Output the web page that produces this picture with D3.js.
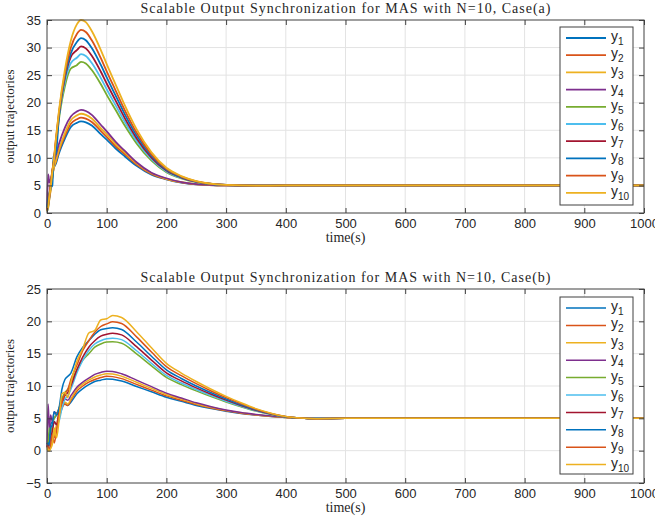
<!DOCTYPE html>
<html>
<head>
<meta charset="utf-8">
<script src="https://cdnjs.cloudflare.com/ajax/libs/d3/7.8.5/d3.min.js"></script>
<style>
  body { margin: 0; background: #fff; }
  .tick text { font-family: "Liberation Sans", Arial, sans-serif; font-size: 13px; fill: #262626; }
</style>
</head>
<body>
<div id="chart"></div>
<script>
// legend names + matlab default colours
const seriesNames = ["1", "2", "3", "4", "5", "6", "7", "8", "9", "10"]
const seriesColors = ["#0072BD", "#D95319", "#EDB120", "#7E2F8E", "#77AC30",
                      "#4DBEEE", "#A2142F", "#0072BD", "#D95319", "#EDB120"]

const xTicks = [0, 100, 200, 300, 400, 500, 600, 700, 800, 900, 1000]
const yTicksA = [0, 5, 10, 15, 20, 25, 30, 35]
const yTicksB = [-5, 0, 5, 10, 15, 20, 25]

// case (a) - sample times and values
const timeA = [0, 2, 4, 6, 9, 11, 15, 20, 30, 40, 50, 57, 65, 75, 90, 100, 115, 130, 150, 175, 200, 225, 250, 300, 350, 400, 1000]
const a1  = [1.0, 2.0, 3.0, 4.5, 6.5, 8.0, 9.0, 10.8, 13.5, 15.6, 16.35, 16.6, 16.45, 15.85, 14.3, 13.3, 11.7, 10.3, 8.55, 6.95, 6.1, 5.5, 5.2, 5.0, 4.95, 5.0, 5.0]
const a2  = [0.5, 1.2, 2.7, 4.2, 6.5, 8.0, 9.3, 11.2, 14.0, 16.2, 17.0, 17.3, 17.1, 16.5, 14.9, 13.8, 12.1, 10.7, 8.8, 7.1, 6.15, 5.55, 5.2, 5.0, 4.95, 5.0, 5.0]
const a3  = [0.3, 1.0, 2.5, 4.0, 6.5, 8.0, 9.5, 11.5, 14.5, 16.8, 17.7, 18.0, 17.8, 17.15, 15.4, 14.3, 12.5, 11.0, 9.0, 7.2, 6.2, 5.6, 5.25, 5.0, 4.95, 5.0, 5.0]
const a4  = [0.5, 7.0, 5.5, 6.0, 7.5, 9.0, 10.5, 12.5, 15.5, 17.5, 18.4, 18.7, 18.5, 17.8, 16.0, 14.8, 12.9, 11.3, 9.2, 7.3, 6.3, 5.6, 5.25, 5.0, 4.95, 5.0, 5.0]
const a5  = [0.8, 2.0, 3.5, 5.0, 7.5, 9.0, 12.5, 17.0, 23.0, 26.2, 26.81, 27.4, 27.11, 25.92, 23.38, 21.43, 18.67, 15.91, 12.62, 9.48, 7.39, 6.27, 5.6, 5.07, 4.96, 5.0, 5.0]
const a6  = [0.3, 1.0, 2.8, 4.5, 7.2, 8.8, 12.8, 17.5, 23.8, 27.2, 28.16, 28.8, 28.47, 27.2, 24.51, 22.45, 19.51, 16.58, 13.09, 9.76, 7.54, 6.35, 5.63, 5.08, 4.96, 5.0, 5.0]
const a7  = [0.5, 1.5, 3.0, 4.8, 7.5, 9.0, 13.0, 17.8, 24.5, 28.3, 29.53, 30.2, 29.86, 28.52, 25.66, 23.48, 20.37, 17.26, 13.57, 10.04, 7.69, 6.43, 5.67, 5.08, 4.96, 5.0, 5.0]
const a8  = [1.0, 2.5, 3.5, 4.5, 5.0, 10.2, 10.8, 17.5, 24.8, 29.0, 31.0, 31.7, 31.34, 29.92, 26.89, 24.58, 21.29, 17.99, 14.08, 10.34, 7.85, 6.51, 5.71, 5.09, 4.96, 5.0, 5.0]
const a9  = [0.5, 1.5, 3.2, 5.0, 7.8, 9.2, 13.5, 18.2, 25.3, 30.0, 32.45, 33.2, 32.82, 31.32, 28.12, 25.68, 22.2, 18.72, 14.59, 10.64, 8.01, 6.6, 5.75, 5.09, 4.95, 5.0, 5.0]
const a10 = [0.3, 1.2, 3.0, 4.5, 7.5, 9.0, 13.5, 18.5, 26.0, 31.3, 34.2, 35.0, 34.6, 33.0, 29.6, 27.0, 23.3, 19.6, 15.2, 11.0, 8.2, 6.7, 5.8, 5.1, 4.95, 5.0, 5.0]

// case (b)
const timeB = [0, 2, 4, 6, 9, 12, 16, 20, 25, 30, 35, 40, 50, 60, 70, 80, 90, 100, 110, 125, 150, 175, 200, 225, 250, 275, 300, 325, 350, 375, 400, 425, 450, 500, 1000]
const b1  = [1.2, 1.0, 2.5, 4.0, 4.5, 5.0, 5.5, 6.0, 7.0, 7.2, 7.0, 7.5, 8.8, 9.6, 10.2, 10.7, 10.9, 11.1, 11.05, 10.77, 9.93, 9.1, 8.26, 7.63, 7.0, 6.5, 6.09, 5.75, 5.5, 5.29, 5.13, 5.03, 4.96, 5.0, 5.0]
const b2  = [0.8, 0.5, 1.0, 2.0, 3.0, 2.0, 3.5, 5.0, 6.5, 7.2, 7.0, 7.8, 9.2, 10.0, 10.6, 11.0, 11.3, 11.5, 11.45, 11.14, 10.25, 9.36, 8.47, 7.8, 7.14, 6.6, 6.16, 5.8, 5.53, 5.31, 5.13, 5.03, 4.96, 5.0, 5.0]
const b3  = [0.3, 0.0, 0.0, 0.5, 1.5, 2.5, 4.0, 5.5, 7.0, 7.5, 7.2, 8.0, 9.5, 10.3, 10.9, 11.4, 11.7, 11.9, 11.85, 11.52, 10.58, 9.63, 8.69, 7.98, 7.27, 6.7, 6.23, 5.85, 5.57, 5.33, 5.14, 5.03, 4.95, 5.0, 5.0]
const b4  = [0.5, 7.2, 3.0, 5.5, 4.5, 6.0, 5.8, 6.5, 7.5, 8.0, 7.8, 8.5, 9.8, 10.6, 11.2, 11.8, 12.1, 12.3, 12.25, 11.9, 10.9, 9.9, 8.9, 8.15, 7.4, 6.8, 6.3, 5.9, 5.6, 5.35, 5.15, 5.03, 4.95, 5.0, 5.0]
const b5  = [1.0, 1.5, 3.5, 2.5, 4.0, 5.0, 5.5, 6.5, 8.0, 9.0, 9.5, 10.5, 12.5, 14.0, 15.0, 16.0, 16.5, 16.8, 16.85, 16.62, 14.98, 13.12, 11.33, 10.22, 9.25, 8.35, 7.53, 6.79, 6.12, 5.6, 5.22, 5.04, 4.96, 5.0, 5.0]
const b6  = [0.3, 0.5, 0.5, 1.5, 3.0, 4.5, 4.0, 4.5, 6.5, 8.0, 8.5, 9.5, 12.0, 14.0, 15.5, 16.5, 17.0, 17.3, 17.4, 17.17, 15.45, 13.5, 11.63, 10.46, 9.45, 8.51, 7.65, 6.87, 6.17, 5.62, 5.23, 5.04, 4.96, 5.0, 5.0]
const b7  = [0.5, 0.8, 1.0, 2.0, 3.0, 4.5, 4.0, 6.0, 7.5, 8.5, 9.0, 10.0, 12.5, 14.5, 16.0, 17.0, 17.7, 18.0, 18.15, 17.9, 16.08, 14.01, 12.03, 10.79, 9.71, 8.72, 7.81, 6.98, 6.24, 5.66, 5.25, 5.04, 4.96, 5.0, 5.0]
const b8  = [1.0, 1.2, 0.8, 3.5, 4.0, 6.0, 5.5, 6.5, 9.5, 11.0, 11.5, 12.0, 14.5, 16.0, 17.0, 18.0, 18.7, 18.9, 19.0, 18.73, 16.8, 14.6, 12.5, 11.16, 10.0, 8.96, 8.0, 7.11, 6.32, 5.7, 5.26, 5.04, 4.96, 5.0, 5.0]
const b9  = [0.8, 0.5, 0.2, 1.0, 2.5, 1.2, 3.0, 5.5, 7.5, 8.8, 9.5, 11.0, 13.2, 15.5, 17.0, 18.3, 19.2, 19.6, 19.95, 19.66, 17.6, 15.25, 13.0, 11.6, 10.36, 9.23, 8.2, 7.26, 6.41, 5.75, 5.28, 5.05, 4.95, 5.0, 5.0]
const b10 = [0.5, 0.2, 0.0, 0.3, 1.0, 3.5, 2.0, 4.5, 8.8, 9.0, 8.2, 10.5, 13.8, 15.8, 18.2, 18.6, 20.2, 20.4, 20.9, 20.6, 18.4, 15.9, 13.5, 12.0, 10.7, 9.5, 8.4, 7.4, 6.5, 5.8, 5.3, 5.05, 4.95, 5.0, 5.0]

const caseA = [a1, a2, a3, a4, a5, a6, a7, a8, a9, a10]
const caseB = [b1, b2, b3, b4, b5, b6, b7, b8, b9, b10]

const width = 655, height = 519

var svg = d3.select("#chart")
  .append("svg")
  .attr("width", width)
  .attr("height", height)

function drawPanel(opts) {
  var left = 47, right = 644
  var x = d3.scaleLinear().domain([0, 1000]).range([left, right])
  var y = d3.scaleLinear().domain(opts.yDomain).range([opts.bottom, opts.top])

  var g = svg.append("g")

  // grid
  g.append("g").selectAll("line")
    .data(xTicks.slice(1, -1))
    .enter().append("line")
    .attr("x1", d => x(d)).attr("x2", d => x(d))
    .attr("y1", opts.top).attr("y2", opts.bottom)
    .attr("stroke", "#e3e3e3")
  g.append("g").selectAll("line")
    .data(opts.yTicks.slice(1, -1))
    .enter().append("line")
    .attr("x1", left).attr("x2", right)
    .attr("y1", d => y(d)).attr("y2", d => y(d))
    .attr("stroke", "#e3e3e3")

  // series
  var line = d3.line()
    .x(d => x(d[0]))
    .y(d => y(d[1]))
    .curve(d3.curveMonotoneX)
  opts.values.forEach((vals, i) => {
    g.append("path")
      .datum(opts.times.map((t, j) => [t, vals[j]]))
      .attr("fill", "none")
      .attr("stroke", seriesColors[i])
      .attr("stroke-width", opts.lineWidth)
      .attr("stroke-linejoin", "round")
      .attr("d", line)
  })

  // axes, ticks inward on all four sides
  g.append("g")
    .attr("transform", "translate(0," + opts.bottom + ")")
    .call(d3.axisBottom(x).tickValues(xTicks).tickFormat(d3.format("d")).tickSize(-5).tickPadding(6))
  g.append("g")
    .attr("transform", "translate(0," + opts.top + ")")
    .call(d3.axisTop(x).tickValues(xTicks).tickSize(-5).tickFormat(""))
  g.append("g")
    .attr("transform", "translate(" + left + ",0)")
    .call(d3.axisLeft(y).tickValues(opts.yTicks).tickSize(-5).tickPadding(6))
  g.append("g")
    .attr("transform", "translate(" + right + ",0)")
    .call(d3.axisRight(y).tickValues(opts.yTicks).tickSize(-5).tickFormat(""))
  g.selectAll(".domain").remove()
  g.selectAll(".tick line").attr("stroke", "#404040")

  g.append("rect")
    .attr("x", left).attr("y", opts.top)
    .attr("width", right - left).attr("height", opts.bottom - opts.top)
    .attr("fill", "none")
    .attr("stroke", "#404040")

  // title + axis labels
  g.append("text")
    .attr("x", (left + right) / 2)
    .attr("y", opts.top - 7)
    .attr("text-anchor", "middle")
    .attr("textLength", 410)
    .style("font-family", "'Liberation Serif', serif")
    .style("font-size", "14px")
    .style("fill", "#262626")
    .text(opts.title)
  g.append("text")
    .attr("x", (left + right) / 2)
    .attr("y", opts.bottom + 29)
    .attr("text-anchor", "middle")
    .style("font-family", "'Liberation Serif', serif")
    .style("font-size", "14px")
    .style("fill", "#262626")
    .text("time(s)")
  g.append("text")
    .attr("transform", "translate(14," + (opts.top + opts.bottom) / 2 + ")rotate(-90)")
    .attr("text-anchor", "middle")
    .style("font-family", "'Liberation Serif', serif")
    .style("font-size", "13px")
    .style("fill", "#262626")
    .text("output trajectories")

  // legend
  var lg = g.append("g")
  lg.append("rect")
    .attr("x", 560).attr("y", opts.legendTop)
    .attr("width", 73).attr("height", opts.legendHeight)
    .attr("fill", "white")
    .attr("stroke", "#404040")
  var row = lg.selectAll(".row")
    .data(seriesNames)
    .enter().append("g")
    .attr("transform", (d, i) => "translate(0," + (opts.legendTop + 11 + i * opts.legendStep) + ")")
  row.append("line")
    .attr("x1", 566).attr("x2", 606)
    .attr("stroke", (d, i) => seriesColors[i])
    .attr("stroke-width", opts.lineWidth)
  var label = row.append("text")
    .attr("x", 611)
    .attr("y", 3)
    .style("font-family", "'Liberation Sans', Arial, sans-serif")
    .style("font-size", "14px")
    .style("fill", "#262626")
  label.append("tspan").text("y")
  label.append("tspan")
    .attr("dy", 4)
    .style("font-size", "10px")
    .text(d => d)
}

drawPanel({
  top: 20, bottom: 213,
  yDomain: [0, 35], yTicks: yTicksA,
  times: timeA, values: caseA,
  title: "Scalable Output Synchronization for MAS with N=10, Case(a)",
  lineWidth: 1.8,
  legendTop: 27, legendHeight: 178, legendStep: 17.2
})

drawPanel({
  top: 289, bottom: 483,
  yDomain: [-5, 25], yTicks: yTicksB,
  times: timeB, values: caseB,
  title: "Scalable Output Synchronization for MAS with N=10, Case(b)",
  lineWidth: 1.5,
  legendTop: 297, legendHeight: 177, legendStep: 17.4
})
</script>
</body>
</html>
